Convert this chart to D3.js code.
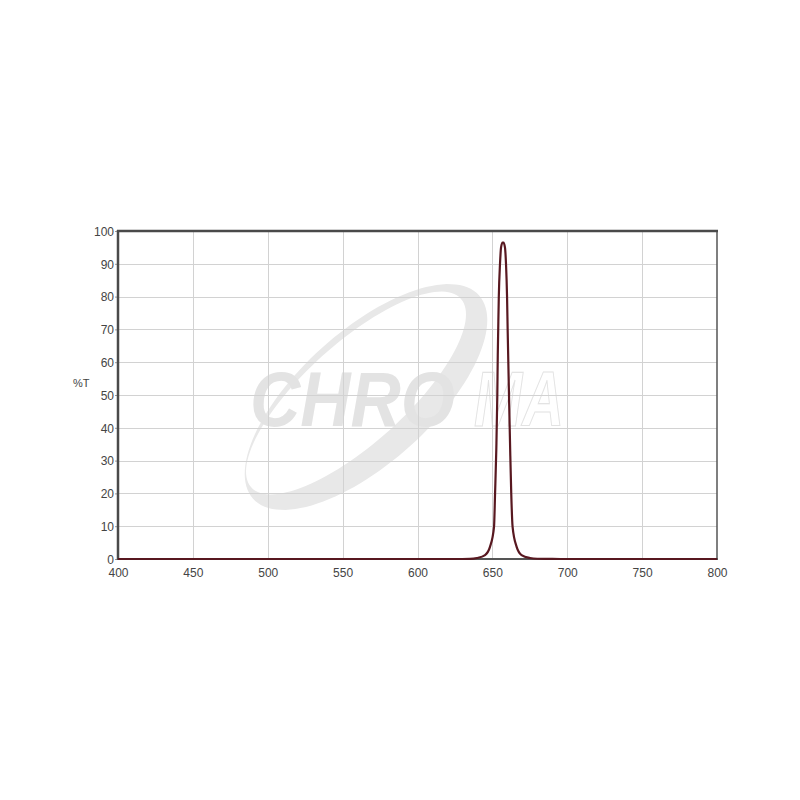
<!DOCTYPE html>
<html><head><meta charset="utf-8">
<script src="https://cdn.jsdelivr.net/npm/d3@7"></script>
<style>body{margin:0;background:#fff}</style>
</head><body>
<script>
const wavelengths = [400, 500, 600, 620, 630, 635, 639.7, 645.1, 648.4, 651.1, 651.8, 652.6, 653.3, 653.6, 653.9, 654.3, 655.1, 655.8, 656.8, 657.4, 658.4, 659.1, 659.8, 660.2, 661.1, 661.9, 662.6, 663.5, 666.2, 669.5, 675.1, 680, 690, 700, 750, 800];
const transmission = [0, 0, 0, 0, 0, 0.03, 0.3, 1.2, 3.7, 9.8, 20, 33, 50, 62, 70, 80, 90, 95, 96.5, 96.5, 95, 90, 80, 70, 50, 33, 20, 9.8, 3.7, 1.2, 0.3, 0.08, 0.02, 0, 0, 0];
const xTicks = [400, 450, 500, 550, 600, 650, 700, 750, 800];
const yTicks = [0, 10, 20, 30, 40, 50, 60, 70, 80, 90, 100];
const yLabel = "%T";
const watermark = ["CHRO", "MA"];

const svg = d3.select("body").append("svg").attr("width", 800).attr("height", 800);
svg.append("rect").attr("width", 800).attr("height", 800).attr("fill", "#fff");

const x = d3.scaleLinear().domain([400, 800]).range([118, 717]);
const y = d3.scaleLinear().domain([0, 100]).range([559, 231]);

// watermark
const wm = svg.append("g");
const cx = 362, cy = 397;
function ellipsePath(cx, cy, rx, ry, rot) {
  const pts = d3.range(0, 361, 3).map(a => {
    const t = a * Math.PI / 180, r = rot * Math.PI / 180;
    const ex = rx * Math.cos(t), ey = ry * Math.sin(t);
    return [cx + ex * Math.cos(r) - ey * Math.sin(r), cy + ex * Math.sin(r) + ey * Math.cos(r)];
  });
  return d3.line()(pts) + "Z";
}
wm.append("path")
  .attr("d", ellipsePath(cx + 4, cy, 152, 66, -42) + ellipsePath(cx - 6, cy - 4, 141, 50, -42))
  .attr("fill", "#e8e8e8").attr("fill-rule", "evenodd");
wm.append("text").attr("x", 250).attr("y", 426)
  .attr("font-family", "Liberation Sans, Arial, sans-serif").attr("font-weight", "bold").attr("font-style", "italic")
  .attr("font-size", 78).attr("fill", "#e3e3e3").attr("textLength", 205).attr("lengthAdjust", "spacingAndGlyphs")
  .text(watermark[0]);
wm.append("text").attr("x", 474).attr("y", 426)
  .attr("font-family", "Liberation Sans, Arial, sans-serif").attr("font-weight", "bold").attr("font-style", "italic")
  .attr("font-size", 78).attr("fill", "none").attr("stroke", "#e3e3e3").attr("stroke-width", 1.2)
  .attr("textLength", 90).attr("lengthAdjust", "spacingAndGlyphs")
  .text(watermark[1]);

// grid
const grid = svg.append("g").attr("stroke", "#d2d2d2").attr("stroke-width", 1);
xTicks.slice(1, -1).forEach(v => grid.append("line").attr("x1", Math.round(x(v)) + 0.5).attr("x2", Math.round(x(v)) + 0.5).attr("y1", 231).attr("y2", 559));
yTicks.slice(1, -1).forEach(v => grid.append("line").attr("y1", Math.round(y(v)) + 0.5).attr("y2", Math.round(y(v)) + 0.5).attr("x1", 118).attr("x2", 717));

// axes
const font = "Liberation Sans, Arial, sans-serif";
const yAxis = svg.append("g").attr("transform", "translate(118,0)")
  .call(d3.axisLeft(y).tickValues(yTicks).tickSize(3).tickPadding(1).tickFormat(d3.format("d")));
yAxis.select(".domain").remove();
yAxis.selectAll("line").attr("stroke", "#999");
yAxis.selectAll("text").attr("font-family", font).attr("font-size", 12).attr("fill", "#444").attr("dy", "0.36em");

const xAxis = svg.append("g").attr("transform", "translate(0,559)")
  .call(d3.axisBottom(x).tickValues(xTicks).tickSize(0).tickPadding(9).tickFormat(d3.format("d")));
xAxis.select(".domain").remove();
xAxis.selectAll("text").attr("font-family", font).attr("font-size", 12).attr("fill", "#444");

svg.append("text").attr("x", 73).attr("y", 386.5).attr("font-family", font).attr("font-size", 11).attr("fill", "#444").text(yLabel);

// frame
svg.append("line").attr("x1", 717).attr("x2", 717).attr("y1", 231).attr("y2", 559).attr("stroke", "#555").attr("stroke-width", 1.5);
svg.append("line").attr("x1", 117).attr("x2", 718).attr("y1", 559).attr("y2", 559).attr("stroke", "#555").attr("stroke-width", 2);
svg.append("line").attr("x1", 118).attr("x2", 118).attr("y1", 230).attr("y2", 560).attr("stroke", "#4a4a4a").attr("stroke-width", 2.5);
svg.append("line").attr("x1", 117).attr("x2", 718).attr("y1", 231).attr("y2", 231).attr("stroke", "#4a4a4a").attr("stroke-width", 2.5);

// curve
const data = wavelengths.map((w, i) => [w, transmission[i]]);
const line = d3.line().x(d => x(d[0])).y(d => y(d[1])).curve(d3.curveMonotoneX);
svg.append("path").attr("d", line(data)).attr("fill", "none").attr("stroke", "#581820").attr("stroke-width", 2.2).attr("stroke-linejoin", "round");
</script>
</body></html>
